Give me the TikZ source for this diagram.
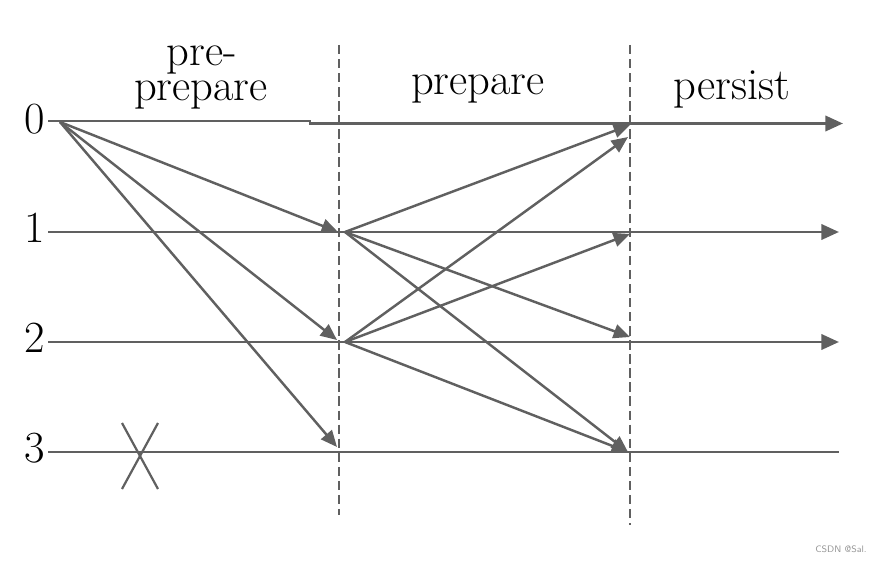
\documentclass[tikz,border=0pt]{standalone}
\usepackage{xcolor}
\definecolor{linegray}{RGB}{96,96,96}
\definecolor{markgray}{RGB}{150,150,150}
\usepackage{tikz}
\usetikzlibrary{arrows.meta}
\newcommand{\phasefont}{\fontsize{38}{23}\selectfont}
\tikzset{
    timeline/.style={linegray, line width=2.4pt},
    timeend/.style={-{Triangle[length=15pt, width=13pt]}},
    msg/.style={linegray, line width=2.1pt, -{Triangle[length=14pt, width=12pt]}},
    phase/.style={linegray, line width=1.8pt, dash pattern=on 8pt off 4pt},
    replica/.style={anchor=east, inner sep=0pt, font=\phasefont},
    header/.style={anchor=base, inner sep=0pt, font=\phasefont},
    crash/.style={linegray, line width=1.9pt}
}

\begin{document}
\begin{tikzpicture}[x=0.03cm, y=-0.03cm]
  \useasboundingbox (0,0) rectangle (883,562);

  % phase boundaries
  \path (339,45) coordinate (b1-top) (339,515) coordinate (b1-bot)
        (630,45) coordinate (b2-top) (630,525) coordinate (b2-bot);
  \draw[phase] (b1-top) -- (b1-bot);
  \draw[phase] (b2-top) -- (b2-bot);

  % phase names
  \node[header] (hdr-pre-a) at (202,66) {pre-};
  \node[header] (hdr-pre-b) at (201,101) {prepare};
  \node[header] (hdr-prepare) at (478,95) {prepare};
  \node[header] (hdr-persist) at (732,100) {persist};

  % replicas
  \node[replica] (r0) at (45,119) {0};
  \path (48,121) coordinate (r0-start)
        (310,121) coordinate (r0-jog)
        (843,123.5) coordinate (r0-end)
        (60,122) coordinate (r0-send);
  \draw[timeline, timeend] (r0-start) -- (r0-jog) |- (r0-end);

  \foreach \i/\y in {1/232, 2/342, 3/452} {
    \node[replica] (r\i) at (45,\y-4) {\i};
    \path (48,\y) coordinate (r\i-start)
          (839,\y) coordinate (r\i-end)
          (345,\y) coordinate (r\i-send);
  }
  \draw[timeline, timeend] (r1-start) -- (r1-end);
  \draw[timeline, timeend] (r2-start) -- (r2-end);
  \draw[timeline] (r3-start) -- (r3-end);

  % replica 3 is down
  \path (140,455) coordinate (x-mid);
  \draw[crash] (x-mid) ++(-18,-32) -- ++(36,66);
  \draw[crash] (x-mid) ++(18,-32) -- ++(-36,66);

  % pre-prepare
  \path (338,232) coordinate (pp-1) (337,340) coordinate (pp-2) (337,447) coordinate (pp-3);
  \foreach \j in {1,2,3}
    \draw[msg] (r0-send) -- (pp-\j);

  % prepare
  \path (630,125) coordinate (p1-0) (630,337) coordinate (p1-2) (628,452) coordinate (p1-3)
        (628,137) coordinate (p2-0) (630,234) coordinate (p2-1) (628,452) coordinate (p2-3);
  \foreach \j in {0,2,3}
    \draw[msg] (r1-send) -- (p1-\j);
  \foreach \j in {0,1,3}
    \draw[msg] (r2-send) -- (p2-\j);

  \node[font=\fontsize{8}{9}\selectfont\sffamily, text=markgray, inner sep=0pt] (mark) at (841,549) {CSDN @Sal.};
\end{tikzpicture}
\end{document}
